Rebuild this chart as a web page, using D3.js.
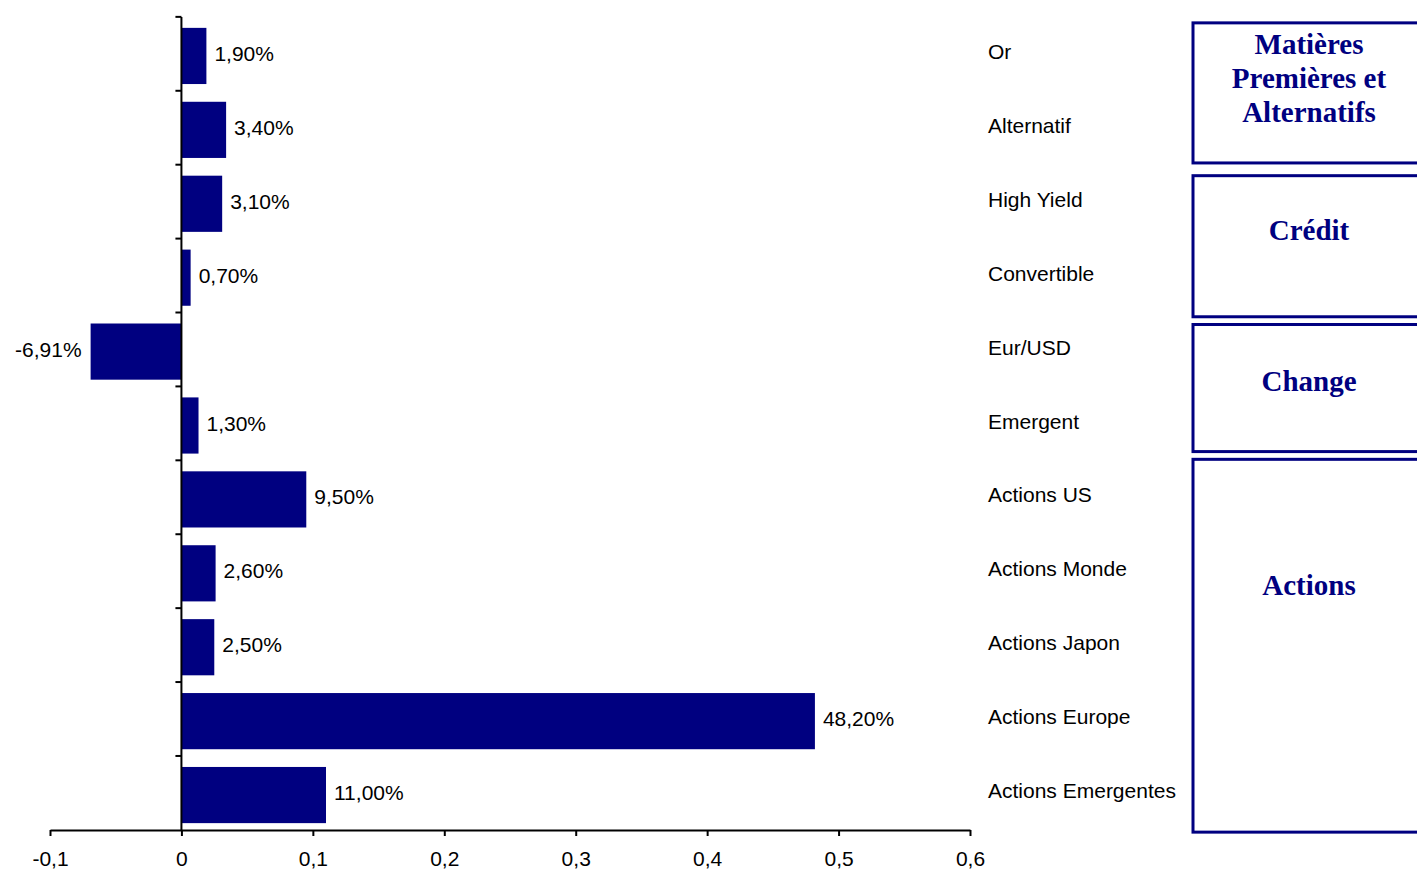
<!DOCTYPE html>
<html>
<head>
<meta charset="utf-8">
<script src="https://cdn.jsdelivr.net/npm/d3@7"></script>
<style>
  body { margin: 0; background: #fff; }
  svg { display: block; }
</style>
</head>
<body>
<div id="chart"></div>
<script>
// valeurs
const categories = ["Or", "Alternatif", "High Yield", "Convertible", "Eur/USD", "Emergent",
  "Actions US", "Actions Monde", "Actions Japon", "Actions Europe", "Actions Emergentes"]
const values = [0.019, 0.034, 0.031, 0.007, -0.0691, 0.013, 0.095, 0.026, 0.025, 0.482, 0.11]
const xTicks = [-0.1, 0, 0.1, 0.2, 0.3, 0.4, 0.5, 0.6]
const groupNames = [["Matières", "Premières et", "Alternatifs"], ["Crédit"], ["Change"], ["Actions"]]
const groupFirst = ["Or", "High Yield", "Eur/USD", "Actions US"]
const groupLast = ["Alternatif", "Convertible", "Emergent", "Actions Emergentes"]

const width = 1417
const height = 870
const navy = "#000080"

const fr = d3.formatLocale({ decimal: ",", thousands: " ", grouping: [3], currency: ["", "€"], minus: "-" })
const fmtPct = fr.format(".2%")
const fmtTick = v => v === 0 ? "0" : fr.format(".1f")(v)

let svg = d3.select("#chart").append("svg")
  .attr("width", width)
  .attr("height", height)
  .style("font-family", "'Liberation Sans', Arial, sans-serif")

const x = d3.scaleLinear().domain([-0.1, 0.6]).range([50, 970])
const y = d3.scaleBand().domain(categories).range([19, 832]).paddingInner(0.24).paddingOuter(0.12)
const top0 = 17, axisY = 830

// barres
svg.selectAll("rect.bar")
  .data(values)
  .enter().append("rect")
  .attr("class", "bar")
  .attr("x", d => x(Math.min(0, d)))
  .attr("y", (d, i) => y(categories[i]))
  .attr("width", d => Math.abs(x(d) - x(0)))
  .attr("height", y.bandwidth())
  .attr("fill", navy)

// étiquettes de valeurs
svg.selectAll("text.val")
  .data(values)
  .enter().append("text")
  .attr("class", "val")
  .attr("x", d => d < 0 ? x(d) - 9 : x(d) + 8)
  .attr("y", (d, i) => y(categories[i]) + y.bandwidth() / 2 + 5)
  .attr("text-anchor", d => d < 0 ? "end" : "start")
  .attr("font-size", 21)
  .attr("fill", "#000")
  .text(d => fmtPct(d))

// axe x
let xAxis = svg.append("g")
  .attr("transform", `translate(0,${axisY})`)
  .call(d3.axisBottom(x).tickValues(xTicks).tickSize(6).tickSizeOuter(0).tickFormat(fmtTick))
xAxis.select(".domain").attr("stroke", "#000").attr("stroke-width", 2)
xAxis.selectAll(".tick line").attr("stroke", "#000").attr("stroke-width", 2)
xAxis.selectAll(".tick text")
  .attr("font-size", 21)
  .attr("font-family", "'Liberation Sans', Arial, sans-serif")
  .attr("fill", "#000")
  .attr("dy", "1.28em")

// axe y (à zéro) avec graduations entre les catégories
const bounds = categories.map(c => y(c) - 11)
svg.append("line")
  .attr("x1", x(0)).attr("x2", x(0))
  .attr("y1", top0).attr("y2", axisY)
  .attr("stroke", "#000").attr("stroke-width", 2)
svg.append("g").selectAll("line")
  .data(bounds)
  .enter().append("line")
  .attr("x1", x(0) - 6).attr("x2", x(0))
  .attr("y1", d => d).attr("y2", d => d)
  .attr("stroke", "#000").attr("stroke-width", 2)

// libellés à droite
svg.selectAll("text.cat")
  .data(categories)
  .enter().append("text")
  .attr("class", "cat")
  .attr("x", 988)
  .attr("y", d => y(d) + y.bandwidth() / 2 + 3)
  .attr("font-size", 21)
  .attr("fill", "#000")
  .text(d => d)

// cadres des familles d'actifs
const boxInsetTop = [6, 11, 12, -1]
const boxInsetBottom = [-2, 4, -9, 2]
const textOffset = [21, 54, 56, 126]
groupNames.forEach((lines, i) => {
  let top = y(groupFirst[i]) - 11 + boxInsetTop[i]
  let bottom = y(groupLast[i]) + y.bandwidth() + 7 + boxInsetBottom[i]
  svg.append("rect")
    .attr("x", 1193)
    .attr("y", top)
    .attr("width", 240)
    .attr("height", bottom - top)
    .attr("fill", "none")
    .attr("stroke", navy)
    .attr("stroke-width", 3)
  let t = svg.append("text")
    .attr("x", 1309)
    .attr("y", top + textOffset[i] + 10)
    .attr("text-anchor", "middle")
    .attr("font-family", "'Liberation Serif', 'Times New Roman', serif")
    .attr("font-weight", "bold")
    .attr("font-size", 29)
    .attr("fill", navy)
  lines.forEach((l, j) => {
    t.append("tspan").attr("x", 1309).attr("dy", j === 0 ? 0 : 34).text(l)
  })
})
</script>
</body>
</html>
